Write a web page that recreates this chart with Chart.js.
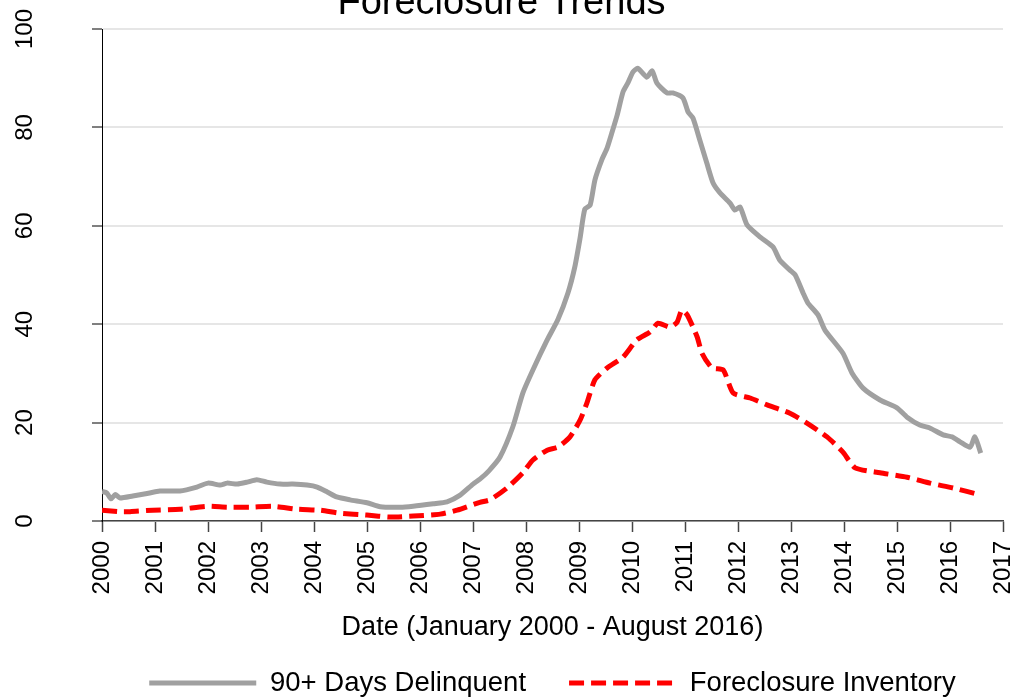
<!DOCTYPE html>
<html>
<head>
<meta charset="utf-8">
<script src="https://cdn.jsdelivr.net/npm/chart.js@4.4.1/dist/chart.umd.min.js"></script>
<style>
html,body{margin:0;padding:0;background:#fff;}
#wrap{width:1016px;height:700px;}
</style>
</head>
<body>
<div id="wrap"><canvas id="c" width="1016" height="700"></canvas></div>
<script>
// ---- Data ----
const delinquentDates = [2000.00,2000.09,2000.17,2000.25,2000.34,2000.58,2000.85,2001.09,2001.47,2001.79,
  2002.00,2002.23,2002.36,2002.55,2002.74,2002.92,2003.11,2003.36,2003.60,2003.87,
  2004.06,2004.25,2004.43,2004.68,2005.00,2005.25,2005.62,2005.87,2006.25,2006.51,
  2006.75,2007.00,2007.13,2007.30,2007.51,2007.75,2007.94,2008.13,2008.40,2008.60,
  2008.79,2008.92,2009.02,2009.11,2009.21,2009.30,2009.43,2009.53,2009.62,2009.72,
  2009.83,2009.92,2010.02,2010.11,2010.28,2010.38,2010.47,2010.66,2010.77,2010.96,
  2011.06,2011.15,2011.28,2011.41,2011.53,2011.66,2011.85,2011.94,2012.04,2012.17,
  2012.42,2012.66,2012.79,2012.98,2013.08,2013.23,2013.32,2013.51,2013.64,2013.98,
  2014.15,2014.36,2014.68,2015.00,2015.19,2015.43,2015.62,2015.87,2016.04,2016.19,
  2016.38,2016.47,2016.58];
const delinquentValues = [6.0,5.7,4.5,5.4,4.7,5.1,5.6,6.1,6.1,6.9,
  7.7,7.3,7.7,7.5,7.9,8.4,7.9,7.5,7.5,7.3,
  6.9,5.9,4.9,4.3,3.7,2.9,2.8,3.0,3.5,3.9,
  5.2,7.5,8.5,10.2,13.0,19.1,26.0,30.7,36.8,40.9,
  46.3,51.6,57.5,63.4,64.2,69.3,73.4,75.8,78.9,82.5,
  87.2,89.0,91.3,92.0,90.2,91.5,89.0,87.0,87.0,86.0,
  83.1,81.9,77.4,72.8,68.7,66.7,64.6,63.2,63.8,60.2,
  57.7,55.7,53.0,51.0,50.0,46.3,44.3,41.9,38.8,34.1,
  30.1,27.0,24.6,23.0,21.1,19.5,18.9,17.5,17.1,16.1,
  15.0,17.1,13.8];

const inventoryDates = [2000.00,2000.34,2000.53,2000.96,2001.47,2001.98,2002.36,2002.79,2003.23,2003.68,
  2004.11,2004.49,2005.00,2005.43,2005.87,2006.38,2006.70,2007.13,2007.32,2007.64,
  2007.94,2008.13,2008.40,2008.60,2008.83,2009.02,2009.15,2009.30,2009.53,2009.83,
  2010.09,2010.34,2010.49,2010.72,2010.85,2010.94,2011.04,2011.23,2011.32,2011.51,
  2011.72,2011.91,2012.23,2012.55,2012.98,2013.30,2013.68,2013.98,2014.21,2014.68,
  2015.19,2015.62,2016.06,2016.57];
const inventoryValues = [2.2,1.9,1.9,2.2,2.4,3.0,2.8,2.8,3.0,2.4,
  2.2,1.6,1.2,0.8,1.0,1.4,2.2,3.8,4.3,6.7,
  9.8,12.4,14.4,15.0,17.1,20.5,24.0,28.7,31.1,33.3,
  36.8,38.4,40.2,39.4,40.4,42.9,41.9,37.4,34.1,31.1,
  30.7,26.0,25.0,23.6,21.9,19.9,17.1,14.0,10.8,9.8,
  8.9,7.7,6.7,5.3];

const yearTicks = [2000,2001,2002,2003,2004,2005,2006,2007,2008,2009,2010,2011,2012,2013,2014,2015,2016,2017];
const valueTicks = [0,20,40,60,80,100];

const seriesNames = ['90+ Days Delinquent', 'Foreclosure Inventory'];
const chartTitle = 'Foreclosure Trends';
const xTitle = 'Date (January 2000 - August 2016)';

// ---- Chart ----
const FONT = "'Liberation Sans', Arial, Helvetica, sans-serif";
Chart.defaults.font.family = FONT;
Chart.defaults.color = '#000';

const toPoints = (xs, ys) => xs.map((x, i) => ({x: x, y: ys[i]}));
const noEdgePadding = (s) => { s.paddingTop = 0; s.paddingBottom = 0; s.paddingLeft = 0; s.paddingRight = 0; };

new Chart(document.getElementById('c'), {
  type: 'line',
  data: {
    datasets: [
      {
        label: seriesNames[0],
        data: toPoints(delinquentDates, delinquentValues),
        borderColor: '#a0a0a0',
        backgroundColor: '#a0a0a0',
        borderWidth: 5,
        pointRadius: 0,
        tension: 0.2,
        fill: false
      },
      {
        label: seriesNames[1],
        data: toPoints(inventoryDates, inventoryValues),
        borderColor: '#ff0000',
        backgroundColor: '#ff0000',
        borderWidth: 5,
        borderDash: [15, 7],
        pointRadius: 0,
        tension: 0.2,
        fill: false
      }
    ]
  },
  options: {
    responsive: false,
    animation: false,
    devicePixelRatio: 1,
    layout: { padding: { left: 0, right: 13, top: 0, bottom: -6.75 } },
    plugins: {
      title: {
        display: true,
        text: chartTitle,
        color: '#000',
        font: { family: FONT, size: 38, weight: 'normal' },
        padding: { top: -19, bottom: 2.4 }
      },
      legend: {
        position: 'bottom',
        fullSize: false,
        labels: {
          usePointStyle: true,
          pointStyle: 'line',
          pointStyleWidth: 107,
          padding: 43,
          color: '#000',
          font: { family: FONT, size: 27.5 },
          generateLabels: (chart) => {
            const items = Chart.defaults.plugins.legend.labels.generateLabels(chart);
            items.forEach((it) => {
              const ds = chart.data.datasets[it.datasetIndex];
              it.lineDash = ds.borderDash || [];
              it.lineWidth = ds.borderWidth;
              it.strokeStyle = ds.borderColor;
              it.fillStyle = ds.borderColor;
              it.lineCap = 'butt';
            });
            return items;
          }
        }
      },
      tooltip: { enabled: false }
    },
    scales: {
      x: {
        type: 'linear',
        min: yearTicks[0],
        max: yearTicks[yearTicks.length - 1],
        afterBuildTicks: (axis) => { axis.ticks = yearTicks.map(v => ({ value: v })); },
        afterFit: noEdgePadding,
        ticks: {
          minRotation: 90,
          maxRotation: 90,
          autoSkip: false,
          padding: 9,
          color: '#000',
          font: { family: FONT, size: 24 },
          callback: (v) => String(v)
        },
        grid: {
          drawOnChartArea: false,
          drawTicks: true,
          tickLength: 11,
          tickColor: '#444',
          tickWidth: 1.5
        },
        border: { color: '#444', width: 1.5 },
        title: {
          display: true,
          text: xTitle,
          color: '#000',
          font: { family: FONT, size: 27 },
          padding: { top: 8.4, bottom: -17.95 }
        }
      },
      y: {
        min: valueTicks[0],
        max: valueTicks[valueTicks.length - 1],
        afterBuildTicks: (axis) => { axis.ticks = valueTicks.map(v => ({ value: v })); },
        afterFit: (s) => { noEdgePadding(s); s.width = 102; },
        ticks: {
          minRotation: 90,
          maxRotation: 90,
          crossAlign: 'center',
          padding: 47,
          color: '#000',
          font: { family: FONT, size: 24 }
        },
        grid: {
          color: '#e6e6e6',
          lineWidth: 2,
          tickLength: 10,
          tickColor: '#000',
          tickWidth: 1
        },
        border: { color: '#000', width: 1 }
      }
    }
  }
});
</script>
</body>
</html>
